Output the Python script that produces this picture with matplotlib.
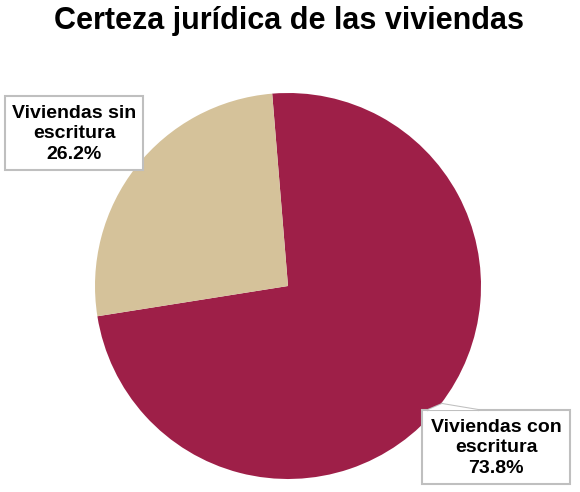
import matplotlib
matplotlib.use('Agg')
import matplotlib.pyplot as plt
from matplotlib.patches import Rectangle, Polygon
from matplotlib.lines import Line2D

### Data
labels = ['Viviendas con\nescritura', 'Viviendas sin\nescritura']
values = [73.8, 26.2]
colors = ['#9E1F48', '#D5C29A']

W, H = 580, 492
plt.rcParams['font.family'] = ['Liberation Sans', 'DejaVu Sans']

fig = plt.figure(figsize=(W / 100, H / 100), dpi=100)

def px(x, y):
    # pixel coords (from top-left) -> figure fraction
    return x / W, 1 - y / H

### Pie
cx, cy, r = 288, 286, 193
ax = fig.add_axes([(cx - r) / W, (H - cy - r) / H, 2 * r / W, 2 * r / H])
ax.pie(values, colors=colors, startangle=94.7, counterclock=False,
       wedgeprops=dict(linewidth=0))
ax.set_aspect('auto')
ax.set_xlim(-1, 1)
ax.set_ylim(-1, 1)
ax.axis('off')

fig.text(*px(289, 21), 'Certeza jurídica de las viviendas', ha='center', va='center',
         fontsize=22, fontweight='bold')

### Label boxes
boxes = [(422, 410, 570, 484), (5, 96, 143, 170)]
edge = '#BFBFBF'
for (x0, y0, x1, y1), lab, val in zip(boxes, labels, values):
    fx0, fy1 = px(x0, y1)
    fx1, fy0 = px(x1, y0)
    fig.patches.append(Rectangle((fx0, fy1), fx1 - fx0, fy0 - fy1, transform=fig.transFigure,
                                 facecolor='white', edgecolor=edge, linewidth=1.5, zorder=5))
    fig.text(*px((x0 + x1) / 2, (y0 + y1) / 2 + 1), '%s\n%.1f%%' % (lab, val),
             ha='center', va='center', fontsize=14, fontweight='bold',
             linespacing=1.3, zorder=7)

### callout pointer on the "con escritura" box
tri = [px(428, 410), px(442, 404), px(478, 410)]
fig.patches.append(Polygon(tri, closed=True, transform=fig.transFigure,
                           facecolor='white', edgecolor='none', zorder=6))
for a, b in [(tri[0], tri[1]), (tri[1], tri[2])]:
    fig.lines.append(Line2D([a[0], b[0]], [a[1], b[1]], transform=fig.transFigure,
                            color=edge, linewidth=1.5, zorder=6))

plt.savefig('out.png', dpi=100)
